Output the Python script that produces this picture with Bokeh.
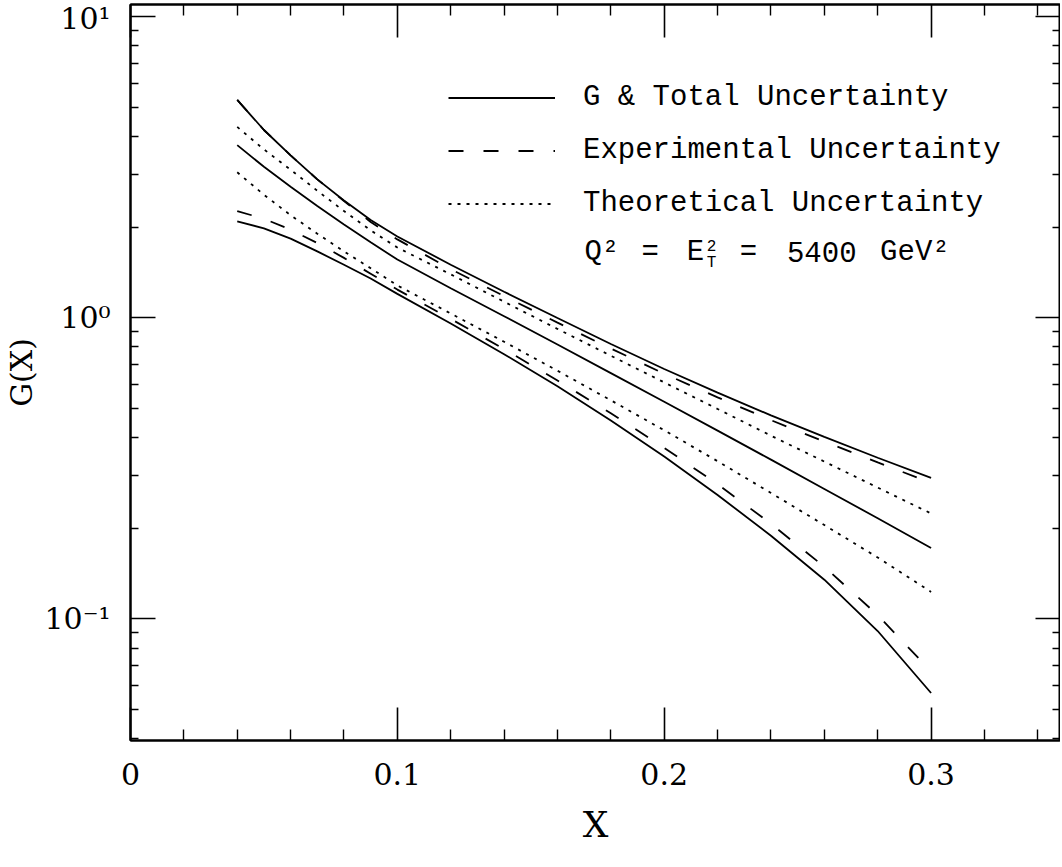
from bokeh.plotting import figure
from bokeh.models import (FixedTicker, LinearAxis, LogAxis, Legend, LegendItem,
                          Label, Range1d, CustomJSTickFormatter)
from bokeh.embed import file_html
from bokeh.resources import INLINE

# ---- data ----
x = [0.04, 0.05, 0.06, 0.07, 0.08, 0.09, 0.10, 0.12, 0.14, 0.16, 0.18,
     0.20, 0.22, 0.24, 0.26, 0.28, 0.30]
total_hi = [5.29, 4.20, 3.46, 2.88, 2.45, 2.11, 1.86, 1.50, 1.22, 0.998, 0.818,
            0.676, 0.564, 0.474, 0.402, 0.343, 0.294]
exp_hi = [5.29, 4.20, 3.46, 2.88, 2.44, 2.08, 1.82, 1.45, 1.18, 0.963, 0.790,
          0.652, 0.544, 0.457, 0.388, 0.331, 0.283]
theo_hi = [4.30, 3.62, 3.10, 2.64, 2.26, 1.95, 1.71, 1.393, 1.13, 0.918, 0.748,
           0.610, 0.498, 0.406, 0.333, 0.273, 0.224]
g_central = [3.74, 3.17, 2.72, 2.35, 2.04, 1.78, 1.56, 1.253, 1.012, 0.815, 0.655,
             0.526, 0.422, 0.338, 0.270, 0.216, 0.172]
theo_lo = [3.04, 2.56, 2.19, 1.90, 1.66, 1.46, 1.28, 1.033, 0.832, 0.667, 0.532,
           0.423, 0.334, 0.262, 0.205, 0.160, 0.123]
exp_lo = [2.26, 2.13, 1.96, 1.77, 1.58, 1.40, 1.24, 0.991, 0.787, 0.619, 0.482,
          0.370, 0.280, 0.207, 0.149, 0.103, 0.067]
total_lo = [2.09, 1.98, 1.83, 1.66, 1.50, 1.35, 1.20, 0.957, 0.757, 0.592, 0.456,
            0.346, 0.258, 0.189, 0.135, 0.0912, 0.0568]

x_ticks = [0, 0.1, 0.2, 0.3]
x_minor = [0.02, 0.04, 0.06, 0.08, 0.12, 0.14, 0.16, 0.18, 0.22, 0.24, 0.26, 0.28, 0.32, 0.34]
y_ticks = [0.1, 1, 10]
y_tick_labels = {0.1: "10\u207b\u00b9", 1: "10\u2070", 10: "10\u00b9"}
y_minor = [m * 10.0 ** e for e in (-2, -1, 0) for m in range(2, 10)]

legend_labels = ["G & Total Uncertainty", "Experimental Uncertainty", "Theoretical Uncertainty"]
q_parts = ["Q\u00b2", "=", "E", "2", "T", "=", "5400", "GeV\u00b2"]

SERIF = "DejaVu Serif"
MONO = "Liberation Mono"
LW = 1.8
DASH = "15 20"
DOT = "3 6"

p = figure(width=1060, height=860,
           x_range=Range1d(0, 0.3485), y_range=Range1d(0.0395, 10.96),
           y_axis_type="log", output_backend="svg", toolbar_location=None,
           min_border_left=130, min_border_right=0, min_border_top=4,
           min_border_bottom=120, x_axis_label="X", y_axis_label="G(X)")
p.xgrid.visible = False
p.ygrid.visible = False
p.outline_line_color = "black"
p.outline_line_width = 2
p.background_fill_color = "white"
p.border_fill_color = "white"

xt = FixedTicker(ticks=x_ticks, minor_ticks=x_minor)
yt = FixedTicker(ticks=y_ticks, minor_ticks=y_minor)

xa = p.xaxis[0]
xa.ticker = xt
ya = p.yaxis[0]
ya.ticker = yt
ya.major_label_overrides = y_tick_labels

for ax in (xa, ya):
    ax.major_label_text_font = SERIF
    ax.major_label_text_font_size = "30px"
    ax.major_label_text_color = "black"
    ax.axis_label_text_font = SERIF
    ax.axis_label_text_font_style = "normal"
    ax.axis_label_text_color = "black"
    ax.axis_line_color = "black"
    ax.axis_line_width = 2
    ax.major_tick_out = 0
    ax.minor_tick_out = 0
    ax.major_tick_line_width = 1.6
    ax.minor_tick_line_width = 1.4
    ax.major_tick_line_color = "black"
    ax.minor_tick_line_color = "black"

xa.major_tick_in = 33
xa.minor_tick_in = 11
xa.major_label_standoff = 22
xa.axis_label_text_font_size = "36px"
xa.axis_label_standoff = 16

ya.major_tick_in = 25
ya.minor_tick_in = 8
ya.major_label_standoff = 20
ya.axis_label_text_font_size = "30px"
ya.axis_label_standoff = 2

blank = CustomJSTickFormatter(code="return ''")
top = LinearAxis(ticker=xt, formatter=blank, major_label_standoff=0,
                 major_label_text_font_size="1px",
                 major_tick_in=33, major_tick_out=0, minor_tick_in=11, minor_tick_out=0,
                 axis_line_width=2, major_tick_line_width=1.6, minor_tick_line_width=1.4)
right = LogAxis(ticker=yt, formatter=blank, major_label_standoff=0,
                major_label_text_font_size="1px",
                major_tick_in=25, major_tick_out=0, minor_tick_in=8, minor_tick_out=0,
                axis_line_width=2, major_tick_line_width=1.6, minor_tick_line_width=1.4)
p.add_layout(top, "above")
p.add_layout(right, "right")

r_tot_hi = p.line(x, total_hi, line_color="black", line_width=LW)
r_exp_hi = p.line(x, exp_hi, line_color="black", line_width=LW, line_dash=DASH)
r_th_hi = p.line(x, theo_hi, line_color="black", line_width=LW, line_dash=DOT)
r_cen = p.line(x, g_central, line_color="black", line_width=LW)
r_th_lo = p.line(x, theo_lo, line_color="black", line_width=LW, line_dash=DOT)
r_exp_lo = p.line(x, exp_lo, line_color="black", line_width=LW, line_dash=DASH)
r_tot_lo = p.line(x, total_lo, line_color="black", line_width=LW)

legend = Legend(items=[LegendItem(label=legend_labels[0], renderers=[r_cen]),
                       LegendItem(label=legend_labels[1], renderers=[r_exp_hi]),
                       LegendItem(label=legend_labels[2], renderers=[r_th_hi])],
                location=(318, 510), padding=0, margin=0, spacing=0,
                glyph_width=107, glyph_height=53, label_height=53, label_standoff=28,
                label_text_font=MONO, label_text_font_size="29px", label_text_color="black",
                border_line_color=None, background_fill_alpha=0)
p.add_layout(legend)

# "Q² = E²_T = 5400 GeV²" line, placed piece by piece
qy = 1.648
big = dict(text_font=MONO, text_font_size="29px", text_baseline="middle", text_color="black")
small = dict(text_font=MONO, text_font_size="16px", text_baseline="middle", text_color="black")
p.add_layout(Label(x=0.1701, y=qy, text=q_parts[0], **big))
p.add_layout(Label(x=0.1915, y=qy, text=q_parts[1], **big))
p.add_layout(Label(x=0.2084, y=qy, text=q_parts[2], **big))
p.add_layout(Label(x=0.2159, y=qy, text=q_parts[3], y_offset=7, **small))
p.add_layout(Label(x=0.2159, y=qy, text=q_parts[4], y_offset=-11, **small))
p.add_layout(Label(x=0.2283, y=qy, text=q_parts[5], **big))
p.add_layout(Label(x=0.2460, y=qy, text=q_parts[6], **big))
p.add_layout(Label(x=0.2809, y=qy, text=q_parts[7], **big))

open("out.html", "w").write(file_html(p, INLINE))
